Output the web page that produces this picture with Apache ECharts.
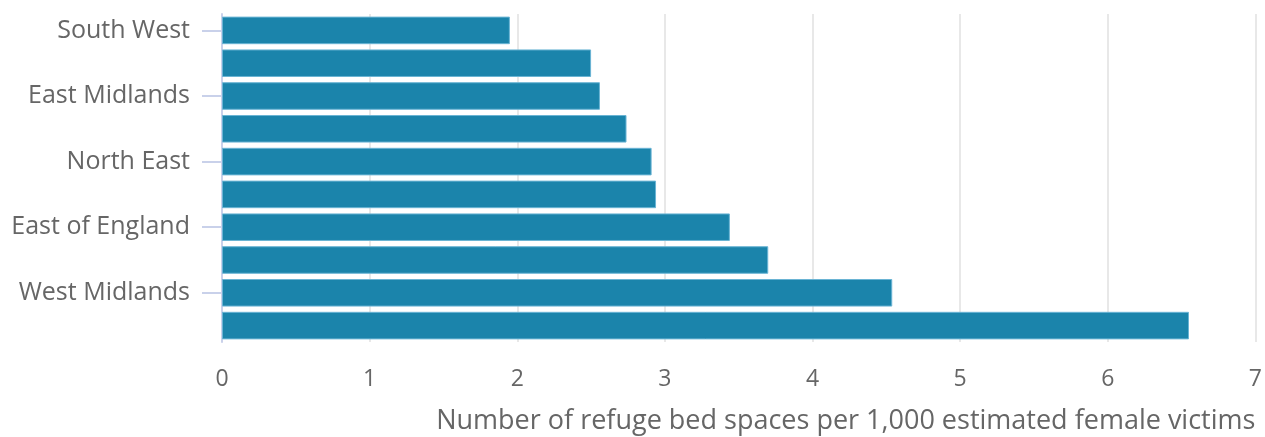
<!DOCTYPE html>
<html>
<head>
<meta charset="utf-8">
<script src="https://cdn.jsdelivr.net/npm/echarts@6/dist/echarts.min.js"></script>
<style>
  html, body { margin: 0; padding: 0; background: #fff; }
  #chart { width: 1265px; height: 437px; }
</style>
</head>
<body>
<div id="chart"></div>
<script>
// regions, top to bottom (only every other label is shown in the original)
const regions = [
  'South West', 'South East', 'East Midlands', 'North West', 'North East',
  'Yorkshire and The Humber', 'East of England', 'Wales', 'West Midlands', 'London'
];
const bedSpaces = [1.95, 2.50, 2.56, 2.74, 2.91, 2.94, 3.44, 3.70, 4.54, 6.55];
const xTicks = [0, 7, 1]; // min, max, interval

const myChart = echarts.init(document.getElementById('chart'));
myChart.setOption({
  animation: false,
  textStyle: { fontFamily: 'Open Sans' },
  grid: { left: 222, right: 9, top: 14, bottom: 95 },
  xAxis: {
    type: 'value',
    min: xTicks[0],
    max: xTicks[1],
    interval: xTicks[2],
    name: 'Number of refuge bed spaces per 1,000 estimated female victims',
    nameLocation: 'end',
    nameGap: 0,
    nameTextStyle: {
      color: '#666',
      fontSize: 27,
      align: 'right',
      verticalAlign: 'top',
      padding: [66, 0, 0, 0],
    },
    axisLine: { show: false },
    axisTick: { show: false },
    axisLabel: { color: '#666', fontSize: 23, margin: 26 },
    splitLine: { show: true, lineStyle: { color: '#e8e8e8', width: 2 } },
  },
  yAxis: {
    type: 'category',
    inverse: true,
    data: regions,
    axisLine: { show: true, lineStyle: { color: '#c9d1ea', width: 2 } },
    axisTick: {
      show: true,
      interval: 1,
      alignWithLabel: true,
      length: 20,
      lineStyle: { color: '#c9d1ea', width: 2 },
    },
    axisLabel: { interval: 1, color: '#666', fontSize: 25, margin: 32, padding: [5, 0, 0, 0] },
  },
  series: [
    {
      type: 'bar',
      data: bedSpaces,
      barCategoryGap: '16%',
      itemStyle: {
        color: '#1b84ab',
        borderColor: '#6ab4d4',
        borderWidth: 1,
      },
    },
  ],
});
</script>
</body>
</html>
